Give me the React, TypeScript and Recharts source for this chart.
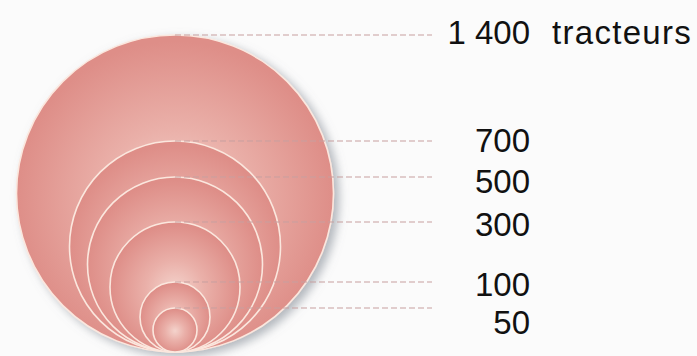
import React from 'react';
import { BarChart, Bar, XAxis, YAxis } from 'recharts';

// proportional circles legend: tractor counts
const VALUES = [1400, 700, 500, 300, 100, 50];
const LABELS = ['1 400', '700', '500', '300', '100', '50'];
const DIAMETERS = [317, 211, 175, 130, 70, 44]; // circle size as drawn, in y-axis units
const UNIT = 'tracteurs';

const LEADER_END = 432;
const LABEL_RIGHT = 530;
const LABEL_NUDGE = [-3, -1, 4, 2, 2, 14];

const row: Record<string, number | string> = { name: 'legend' };
VALUES.forEach((v, i) => {
  row[`c${i}`] = DIAMETERS[i];
});
const data = [row];

const CircleMark = (props: any) => {
  const { x, y, width, height, i } = props;
  const cx = x + width / 2;
  const r = height / 2;
  const cy = y + r;
  const ty = y + LABEL_NUDGE[i];
  return (
    <g>
      <circle
        cx={cx}
        cy={cy}
        r={r}
        fill="url(#circleFill)"
        stroke="#fbe7de"
        strokeWidth={1.6}
        filter={i === 0 ? 'url(#circleShadow)' : undefined}
      />
      <line x1={cx} y1={y} x2={LEADER_END} y2={y} stroke="#c79f9f" strokeWidth={1} strokeDasharray="6 3" />
      <text
        x={LABEL_RIGHT}
        y={ty}
        textAnchor="end"
        dominantBaseline="central"
        fontSize={33}
        fill="#111"
        fontFamily="'Liberation Sans', Arial, sans-serif"
      >
        {LABELS[i]}
      </text>
      {i === 0 && (
        <text
          x={LABEL_RIGHT + 22}
          y={ty}
          dominantBaseline="central"
          fontSize={33}
          letterSpacing={1.3}
          fill="#111"
          fontFamily="'Liberation Sans', Arial, sans-serif"
        >
          {UNIT}
        </text>
      )}
    </g>
  );
};

export default function App() {
  return (
    <div style={{ position: 'absolute', left: 0, top: 0, width: 697, height: 356, background: '#fbfbfb' }}>
      <BarChart
        width={697}
        height={356}
        data={data}
        margin={{ top: 35, right: 348, bottom: 4, left: 0 }}
        barSize={40}
        barGap={-40}
      >
        <defs>
          <radialGradient id="circleFill" cx="50%" cy="52%" r="50%">
            <stop offset="0%" stopColor="#f4d3cc" />
            <stop offset="45%" stopColor="#eab0a9" />
            <stop offset="100%" stopColor="#de8e88" />
          </radialGradient>
          <filter id="circleShadow" x="-20%" y="-20%" width="140%" height="140%">
            <feDropShadow dx={5} dy={4} stdDeviation={5} floodColor="#78808a" floodOpacity={0.55} />
          </filter>
        </defs>
        <XAxis dataKey="name" hide />
        <YAxis hide domain={[0, DIAMETERS[0]]} />
        {VALUES.map((v, i) => (
          <Bar
            key={v}
            dataKey={`c${i}`}
            isAnimationActive={false}
            shape={(p: any) => <CircleMark {...p} i={i} />}
          />
        ))}
      </BarChart>
    </div>
  );
}
